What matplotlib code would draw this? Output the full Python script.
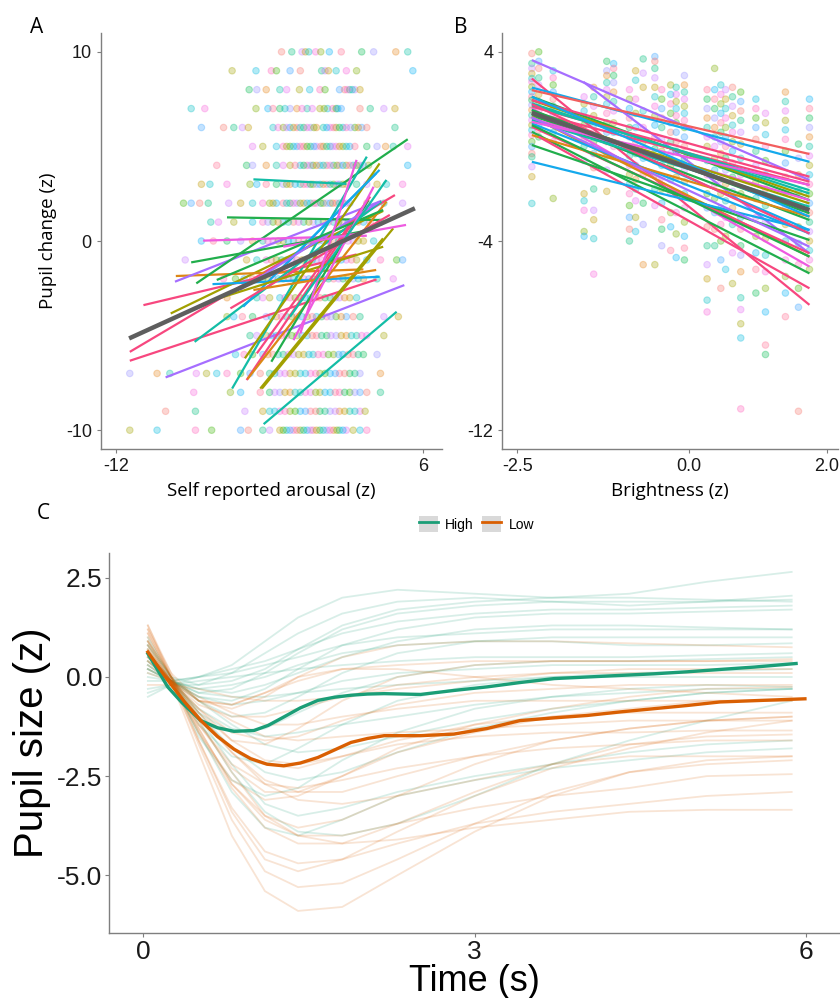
import numpy as np
import matplotlib.pyplot as plt
from matplotlib.lines import Line2D
from matplotlib.patches import Rectangle

# ---------------- data: panel A (self reported arousal vs pupil change) ----------------
a_rows = {
    10: [-2.3, -1.7, -1.1, -0.9, -0.7, -0.3, 0.0, 0.5, 1.2, 2.4, 3.1, 4.4, 5.1],
    9: [-5.2, -3.8, -2.9, -2.6, -1.8, -1.2, 0.05, 0.25, 0.45, 0.9, 1.5, 2.1, 5.4],
    8: [-4.2, -3.75, -3.2, -2.4, -2.0, -1.25, -0.65, -0.05, 0.25, 1.1, 1.4, 1.7, 2.0, 2.3, 1.85, 1.55],
    7: [-7.6, -6.8, -3.8, -3.1, -2.8, -2.4, -1.8, -1.4, -0.8, -0.5, -0.05, 0.4, 0.7, 0.9, 1.2, 2.3, 2.9, 3.7, 4.35,
        -2.1, -1.1, 0.2, 1.0],
    6: [-7.0, -5.7, -5.1, -4.6, -4.25, -2.8, -2.5, -2.2, -1.8, -1.4, -1.0, -0.6, -0.25, 0.15, 0.55, 0.9, 1.3, 1.5,
        2.0, 2.4, 2.7, 4.35, -2.0, -1.6, -1.2, -0.8, -0.4, 0.35, 0.75, 1.1, 1.75, 2.2],
    5: [-4.0, -3.4, -2.6, -2.2, -1.8, -1.4, -1.0, -0.6, -0.25, 0.15, 0.55, 0.9, 1.3, 1.7, 2.0, 2.7, 3.3, 3.8, 4.25,
        5.1, -2.0, -1.6, -1.2, -0.8, -0.4, 0.0, 0.35, 0.7, 1.1, 1.5],
    4: [-6.1, -4.35, -4.0, -3.2, -2.6, -2.2, -1.8, -1.2, -0.8, -0.45, -0.05, 0.35, 0.75, 1.1, 1.5, 1.9, 2.3, 2.8,
        5.1, -1.5, -1.0, -0.6, -0.25, 0.15, 0.55, 0.95, 1.3, 1.7, 2.1, 2.5],
    3: [-7.0, -6.5, -5.5, -4.15, -3.75, -3.2, -2.6, -2.2, -1.8, -1.2, -0.8, -0.45, -0.05, 0.35, 0.75, 1.1, 1.5, 2.1,
        2.7, 3.3, 3.85, 4.8, -2.0, -1.5, -1.0, -0.6, -0.25, 0.15, 0.55, 0.95, 1.3],
    2: [-8.05, -7.6, -7.1, -6.6, -5.4, -4.7, -4.0, -3.4, -3.0, -2.6, -2.2, -1.8, -1.4, -1.0, -0.6, -0.25, 0.15, 0.55,
        0.9, 1.3, 1.7, 2.7, 3.7, 4.8, -2.8, -2.0, -1.6, -1.2, -0.8, -0.4, 0.0, 0.35, 0.7, 1.1, 1.5],
    1: [-6.45, -6.0, -5.1, -4.0, -3.4, -2.8, -2.2, -1.6, -1.0, -0.45, 0.15, 0.75, 1.3, 1.9, 2.5, 2.9, 3.5,
        -3.1, -2.5, -1.9, -1.3, -0.7, -0.15, 0.45, 1.05, 1.6, 2.2],
    0: [-7.0, -6.3, -5.5, -4.7, -4.0, -3.4, -2.8, -2.2, -1.6, -1.0, -0.45, 0.15, 0.75, 1.3, 1.9, 2.5, 3.1,
        -3.1, -2.5, -1.9, -1.3, -0.7, -0.15, 0.45, 1.05, 1.6, 2.2],
    -1: [-7.95, -4.35, -3.75, -3.2, -2.6, -2.0, -1.4, -0.8, -0.25, 0.35, 0.9, 1.5, 2.1, 2.7, 3.5, 4.45, 4.8,
         -2.9, -2.3, -1.7, -1.1, -0.5, 0.05, 0.6, 1.2, 1.8],
    -2: [-5.7, -5.0, -4.5, -4.0, -3.4, -2.8, -2.2, -1.6, -1.0, -0.45, 0.15, 0.75, 1.3, 1.9, 2.5, 3.3, 4.25,
         -3.1, -2.5, -1.9, -1.3, -0.7, -0.15, 0.45, 1.05, 1.6, 2.2],
    -3: [-5.5, -3.75, -3.4, -3.0, -2.4, -1.8, -1.2, -0.6, -0.05, 0.55, 1.1, 1.7, 2.1, -2.1, -1.5, -0.9, -0.3, 0.25,
         0.85, 1.4],
    -4: [-5.5, -5.1, -4.6, -4.0, -3.2, -2.6, -2.0, -1.4, -0.8, -0.25, 0.35, 0.9, 1.5, 1.9, 2.3, 3.7, 4.55,
         -2.9, -2.3, -1.7, -1.1, -0.5, 0.05, 0.6, 1.2],
    -5: [-4.15, -3.75, -3.2, -2.6, -2.0, -1.4, -0.8, -0.25, 0.35, 0.9, 1.5, 2.1, 2.7, 3.7, -2.9, -2.3, -1.7, -1.1,
         -0.5, 0.05, 0.6, 1.2, 1.8, 2.4],
    -6: [-5.0, -4.5, -4.0, -3.4, -2.8, -2.2, -1.6, -1.0, -0.45, 0.15, 0.75, 1.3, 1.9, 2.5, 3.3, -3.1, -2.5, -1.9,
         -1.3, -0.7, -0.15, 0.45, 1.05, 1.6, 2.2],
    -7: [-11.2, -9.6, -8.85, -7.3, -6.7, -6.1, -5.5, -4.7, -4.15, -3.55, -3.0, -2.4, -1.8, -1.2, -0.6, -0.05, 0.55,
         1.1, 1.7, 2.3, 3.5, -2.7, -2.1, -1.5, -0.9, -0.3, 0.25, 0.85, 1.4, 2.0],
    -8: [-7.45, -5.3, -4.7, -3.55, -3.0, -2.4, -1.8, -1.2, -0.6, -0.05, 0.55, 1.1, 1.7, 2.3, 2.7, 3.5,
         -2.7, -2.1, -1.5, -0.9, -0.3, 0.25, 0.85, 1.4, 2.0],
    -9: [-9.1, -7.35, -4.45, -3.4, -3.0, -2.4, -1.8, -1.2, -0.6, -0.05, 0.55, 1.1, 1.7, 2.3, 2.6,
         -2.7, -2.1, -1.5, -0.9, -0.3, 0.25, 0.85, 1.4, 2.0],
    -10: [-11.2, -9.6, -7.35, -6.4, -4.7, -4.25, -3.4, -3.0, -2.4, -2.0, -1.6, -1.2, -0.8, -0.45, -0.05, 0.35, 0.75,
          1.1, 1.5, 1.9, 2.3, 2.7, -2.2, -1.8, -1.4, -1.0, -0.6, -0.25, 0.15, 0.55, 0.95, 1.3],
}

# per-subject fitted lines: x0, y0, x1, y1
a_x0 = [-11.2, -11.2, -10.4, -9.1, -8.8, -8.5, -8.55, -7.6, -7.3, -7.4, -6.35, -6.9, -5.5, -3.95, -5.2, -4.55, -4.35,
        -4.3, -3.45, -3.35, -4.45, -3.55, -5.3, -2.9, -3.75, -2.0, -4.75, -2.2, -3.95, -6.1, -6.3, -1.2, -1.6, -1.8]
a_y0 = [-5.86, -6.33, -3.39, -7.21, -3.83, -1.85, -2.15, -1.13, -2.24, -5.33, -2.28, 0.02, 1.25, 3.26, -7.8, -3.47, -7.35,
        -7.3, -7.8, -9.68, -6.2, -7.8, -3.56, -6.38, -5.94, -1.18, -2.59, -0.3, -2.59, -2.06, -3.12, -4.89, -5.24, -4.0]
a_x1 = [4.35, 3.27, 2.1, 4.9, 3.66, 2.5, 3.55, 2.4, 5.1, 3.55, 3.45, 2.7, 3.45, 1.5, 2.7, 3.45, 2.5,
        3.85, 4.25, 4.45, 3.45, 3.65, 4.05, 2.8, 2.9, 3.25, 3.45, 5.0, 3.25, 3.66, 3.66, 2.1, 3.1, 3.85]
a_y1 = [2.43, -2.03, -0.71, -2.33, 1.59, -1.5, 2.12, 0.5, 5.38, 2.08, -1.89, 0.28, 1.11, 3.02, 4.46, 3.76, 1.82,
        2.08, 0.67, -3.74, 4.1, 0.14, 1.38, 2.17, 2.35, 3.58, 2.08, 0.85, -1.53, 1.64, -0.3, 4.29, 2.87, 3.23]
a_cols = ['pink', 'pink', 'pink', 'purple', 'olive', 'orange', 'purple', 'green', 'green', 'teal', 'blue', 'magenta',
          'green', 'teal', 'teal', 'blue', 'pink', 'orange', 'olive', 'teal', 'olive', 'olive', 'pink', 'green',
          'pink', 'blue', 'purple', 'magenta', 'orange', 'green', 'olive', 'magenta', 'magenta', 'teal']
a_fit = [(-11.24, -5.15), (5.52, 1.73)]

# ---------------- data: panel B (brightness vs pupil change) ----------------
b_cols_x = [-2.29, -2.19, -1.98, -1.53, -1.39, -1.20, -1.10, -0.87, -0.78, -0.67, -0.50, -0.40, -0.27, -0.19,
            -0.07, 0.26, 0.37, 0.46, 0.53, 0.63, 0.75, 0.97, 1.11, 1.40, 1.59, 1.75]
b_cols_y = [
    [3.93, 3.51, 3.3, 3.08, 2.87, 2.73, 2.52, 2.31, 2.1, 1.96, 1.75, 1.54, 1.32, 1.11, 0.9, 0.69, 0.48, 0.2, -0.01, -0.3, -0.44, -0.86, -1.28, -2.41],
    [4.0, 3.6, 3.3, 2.9, 2.6, 2.2, 1.9, 1.5, 1.2, 0.9, 0.7, 0.4],
    [3.2, 2.9, 2.6, 2.3, 2.0, 1.7, 1.4, 1.0, 0.6, 0.2, -2.2],
    [2.1, 1.8, 1.5, 1.2, 0.9, 0.6, 0.3, 0.0, -0.6, -2.0, -2.3, -2.7, -3.6, -3.8],
    [2.5, 2.1, 1.7, 1.3, 0.9, 0.6, 0.2, -0.3, -0.9, -1.8, -2.7, -3.1, -3.9, -5.4],
    [3.6, 3.2, 3.0, 2.7, 2.4, 2.1, 1.8, 1.4, 1.0, 0.6, 0.2, -0.4, -1.0, -1.9],
    [3.5, 3.3, 3.0, 2.7, 2.3, 1.9, 1.5, 1.0, 0.6, 0.0],
    [2.4, 2.0, 1.6, 1.2, 0.8, 0.4, 0.0, -0.4, -0.8, -1.2, -1.6, -2.0, -2.5, -3.0, -3.5, -4.0],
    [3.2, 2.8, 2.0, 1.4, 0.8, 0.2, -0.3, -0.8, -1.4, -1.8, -2.3, -3.0, -3.6],
    [3.7, 3.1, 2.5, 1.5, 0.8, 0.2, -0.5, -1.2, -2.4, -3.3, -5.0],
    [3.8, 3.6, 3.3, 2.9, 2.5, 2.1, 1.7, 1.3, 0.9, 0.4, -0.1, -0.6, -1.2, -1.8, -2.5, -5.0],
    [2.4, 2.0, 1.6, 1.2, 0.8, 0.3, -0.2, -0.8, -1.3, -1.8, -2.4, -3.1, -3.5, -4.2],
    [2.6, 2.2, 1.8, 1.4, 1.0, 0.6, 0.2, -0.3, -0.8, -1.4, -2.0, -2.8, -3.4, -4.4],
    [2.5, 2.2, 1.9, 1.6, 1.3, 1.0, 0.6, 0.2, -0.2, -0.7, -1.3, -2.0, -2.8, -3.7, -4.7],
    [3.0, 2.6, 2.3, 2.0, 1.7, 1.4, 1.1, 0.8, 0.4, 0.0, -0.5, -1.0, -1.5, -2.0, -2.6, -3.2, -3.8, -4.3, -4.8],
    [2.4, 2.0, 1.6, 1.2, 0.8, 0.4, 0.0, -0.6, -1.2, -2.0, -2.6, -3.4, -4.2, -5.0, -5.6, -6.5, -7.0],
    [3.3, 2.4, 2.0, 1.6, 1.2, 0.8, 0.4, 0.0, -0.5, -1.0, -1.6, -2.2, -2.8, -3.5, -4.2],
    [2.6, 2.2, 1.8, 1.4, 1.0, 0.6, 0.2, -0.3, -0.8, -1.4, -2.0, -2.6, -3.3, -4.0, -4.8, -6.0],
    [2.4, 2.0, 1.6, 1.2, 0.8, 0.4, 0.0, -0.5, -1.0, -1.6, -2.3, -3.0, -3.8, -5.2],
    [2.5, 2.1, 1.7, 1.3, 0.9, 0.6, 0.2, -0.2, -0.7, -1.3, -1.9, -2.6, -3.3, -4.5, -5.8],
    [2.3, 1.9, 1.5, 1.1, 0.6, 0.1, -0.5, -1.2, -2.0, -3.0, -3.5, -4.2, -4.6, -5.3, -6.4, -6.9, -7.5, -8.1, -11.1],
    [2.0, 1.6, 1.2, 0.8, 0.3, -0.2, -0.8, -1.5, -2.2, -3.0, -3.8, -4.5, -5.2, -6.2],
    [1.4, 1.0, 0.5, 0.0, -0.6, -1.2, -1.8, -2.5, -3.2, -3.9, -4.6, -5.3, -6.0, -7.0, -8.4, -8.8],
    [2.3, 1.9, 1.5, 1.1, 0.7, 0.3, -0.2, -0.7, -1.3, -1.9, -2.6, -3.3, -4.0, -4.8, -5.5, -6.2, -7.2],
    [0.1, -0.5, -1.2, -1.9, -2.7, -3.4, -4.1, -5.0, -6.0, -6.8, -11.2],
    [2.0, 1.6, 1.2, 0.8, 0.4, 0.0, -0.4, -0.8, -1.2, -1.6, -2.0, -2.4, -2.8, -3.2, -3.6, -4.0, -4.4, -4.8, -5.2],
]
b_x0 = [-2.29, -2.29, -2.29, -1.54, -2.29, -2.29, -2.29, -2.29, -2.29, -2.29, -2.29, -2.29, -2.29, -2.29, -2.29, -2.29,
        -2.29, -2.29, -2.29, -2.29, -2.19, -2.29, -2.29, -2.29, -2.29, -2.29, -2.29, -2.29, -2.29, -2.29, -2.29, -2.29]
b_y0 = [3.65, 2.87, 2.49, 2.73, 2.38, 2.1, 1.96, 1.82, 1.68, 1.61, 1.54, 1.46, 1.32, 1.25, 1.18, 1.11,
        0.97, 0.83, 0.62, 0.48, 0.41, 0.06, -0.65, 1.96, 1.75, 1.54, 1.39, 1.23, 1.04, 2.1, 1.79, 0.9]
b_x1 = [1.75] * 32
b_y1 = [-1.42, -6.7, -0.65, -4.52, -0.32, -2.27, -2.13, -1.99, -1.49, -5.08, -3.54, -1.63, -3.11, -4.66, -2.27, -2.55,
        -3.68, -4.52, -5.37, -2.97, -6.0, -3.96, -3.54, -1.28, -1.85, -2.83, -2.41, -4.24, -1.63, -2.97, -3.68, -4.66]
b_cols = ['purple', 'pink', 'blue', 'purple', 'red', 'green', 'olive', 'teal', 'pink', 'magenta', 'blue', 'pink',
          'green', 'orange', 'magenta', 'teal', 'blue', 'pink', 'green', 'orange', 'pink', 'green', 'blue', 'pink',
          'teal', 'green', 'olive', 'purple', 'magenta', 'blue', 'pink', 'green']
b_fit = [(-2.29, 1.42), (1.75, -2.69)]

# ---------------- data: panel C (pupil time course) ----------------
t_knots = [0.04, 0.25, 0.5, 0.8, 1.1, 1.4, 1.8, 2.3, 3.0, 3.7, 4.4, 5.1, 5.87]
high_curves = [
    [0.2, -0.1, 0.0, 0.3, 0.9, 1.5, 2.0, 2.2, 2.1, 2.0, 2.1, 2.4, 2.65],
    [0.5, 0.0, -0.2, 0.1, 0.6, 1.1, 1.6, 1.9, 2.0, 1.9, 1.8, 1.9, 2.05],
    [0.3, -0.1, -0.4, -0.3, 0.1, 0.6, 1.2, 1.6, 1.8, 1.9, 1.9, 1.9, 1.95],
    [0.0, -0.1, 0.0, 0.2, 0.4, 0.7, 1.1, 1.4, 1.6, 1.7, 1.7, 1.75, 1.8],
    [0.6, -0.1, -0.5, -0.6, -0.3, 0.2, 0.8, 1.2, 1.5, 1.6, 1.6, 1.65, 1.7],
    [-0.3, -0.2, 0.0, 0.1, 0.3, 0.5, 0.8, 1.0, 1.1, 1.2, 1.2, 1.2, 1.2],
    [0.8, 0.0, -0.6, -1.0, -0.9, -0.5, 0.1, 0.6, 0.9, 1.0, 1.0, 1.0, 1.0],
    [0.4, -0.1, -0.3, -0.2, 0.0, 0.3, 0.6, 0.8, 0.9, 0.9, 0.8, 0.8, 0.85],
    [-0.5, -0.2, -0.1, 0.0, 0.1, 0.2, 0.3, 0.4, 0.5, 0.5, 0.5, 0.55, 0.6],
    [0.9, 0.0, -0.9, -1.4, -1.3, -0.9, -0.4, 0.0, 0.3, 0.4, 0.4, 0.45, 0.5],
    [0.2, -0.1, -0.5, -0.7, -0.6, -0.4, -0.1, 0.1, 0.2, 0.3, 0.3, 0.3, 0.35],
    [0.7, -0.1, -1.2, -2.0, -2.2, -1.8, -1.2, -0.6, -0.2, 0.0, 0.1, 0.15, 0.2],
    [0.1, -0.1, -0.4, -0.5, -0.5, -0.4, -0.3, -0.2, -0.1, 0.0, 0.0, 0.0, 0.0],
    [1.0, 0.0, -1.5, -2.6, -3.0, -2.8, -2.1, -1.4, -0.8, -0.5, -0.3, -0.2, -0.25],
    [0.5, -0.1, -0.8, -1.3, -1.5, -1.4, -1.2, -1.0, -0.7, -0.5, -0.4, -0.3, -0.3],
    [0.3, -0.1, -1.0, -2.2, -3.2, -3.5, -3.3, -2.9, -2.5, -2.2, -1.9, -1.7, -1.6],
    [0.6, -0.1, -1.4, -2.9, -3.8, -4.0, -3.6, -3.0, -2.6, -2.3, -2.1, -1.9, -1.8],
    [-0.1, -0.1, -0.6, -1.2, -1.7, -1.9, -1.8, -1.5, -1.1, -0.8, -0.6, -0.4, -0.3],
    [0.4, -0.1, -0.3, -0.4, -0.2, 0.1, 0.5, 0.9, 1.2, 1.3, 1.3, 1.25, 1.2],
    [0.2, -0.1, -0.9, -1.8, -2.4, -2.6, -2.4, -1.9, -1.3, -0.9, -0.6, -0.4, -0.3],
    [-0.4, -0.2, -0.2, -0.1, 0.2, 0.7, 1.3, 1.7, 1.9, 2.0, 2.0, 1.95, 1.9],
    [0.8, 0.0, -1.1, -2.4, -3.4, -3.9, -4.0, -3.7, -3.0, -2.2, -1.6, -1.1, -0.6],
]
low_curves = [
    [1.3, 0.1, -0.6, -0.8, -0.5, 0.0, 0.5, 0.8, 0.9, 0.9, 0.85, 0.8, 0.75],
    [0.9, 0.0, -0.9, -1.6, -1.7, -1.3, -0.6, 0.0, 0.3, 0.4, 0.4, 0.4, 0.4],
    [0.6, -0.1, -0.7, -1.0, -1.0, -0.8, -0.5, -0.2, 0.0, 0.1, 0.1, 0.1, 0.1],
    [1.1, 0.0, -1.4, -2.6, -3.1, -3.0, -2.5, -1.8, -1.2, -0.8, -0.5, -0.3, -0.25],
    [0.7, -0.1, -1.2, -2.3, -2.9, -2.9, -2.5, -1.9, -1.4, -1.0, -0.8, -0.6, -0.6],
    [0.4, -0.1, -0.8, -1.6, -2.1, -2.2, -2.0, -1.6, -1.2, -1.0, -0.9, -0.9, -0.9],
    [1.2, 0.1, -1.6, -3.4, -4.6, -4.9, -4.6, -3.9, -3.0, -2.3, -1.8, -1.4, -1.1],
    [0.9, -0.1, -1.9, -4.0, -5.4, -5.9, -5.8, -5.0, -3.9, -3.0, -2.4, -2.1, -2.0],
    [0.5, -0.1, -1.3, -2.7, -3.6, -4.0, -4.0, -3.7, -3.3, -3.0, -2.8, -2.5, -2.45],
    [0.8, -0.1, -1.6, -3.3, -4.4, -4.7, -4.6, -4.2, -3.7, -3.4, -3.2, -3.0, -2.9],
    [0.3, -0.1, -1.1, -2.4, -3.5, -4.0, -4.2, -4.1, -3.8, -3.6, -3.4, -3.35, -3.35],
    [1.0, 0.0, -1.0, -1.8, -2.2, -2.3, -2.0, -1.7, -1.5, -1.4, -1.4, -1.35, -1.35],
    [0.2, -0.1, -0.6, -1.1, -1.5, -1.6, -1.5, -1.4, -1.3, -1.2, -1.1, -1.1, -1.1],
    [0.6, -0.1, -1.0, -1.9, -2.6, -2.9, -2.9, -2.5, -2.0, -1.6, -1.3, -1.1, -1.0],
    [-0.2, -0.2, -0.3, -0.5, -0.6, -0.6, -0.5, -0.3, -0.1, 0.1, 0.2, 0.2, 0.2],
    [1.1, 0.0, -0.6, -0.7, -0.4, -0.1, 0.2, 0.3, 0.4, 0.4, 0.4, 0.4, 0.45],
    [0.8, -0.1, -1.4, -2.8, -3.8, -4.2, -4.2, -3.7, -2.9, -2.2, -1.7, -1.5, -1.45],
    [0.4, -0.1, -0.9, -1.9, -2.7, -3.1, -3.2, -3.0, -2.6, -2.2, -2.0, -2.0, -2.0],
    [1.2, 0.0, -1.7, -3.6, -4.9, -5.3, -5.2, -4.6, -3.7, -2.9, -2.4, -2.2, -2.1],
    [0.7, -0.1, -0.6, -0.7, -0.4, 0.0, 0.2, 0.2, 0.0, -0.2, -0.3, -0.4, -0.5],
    [0.1, -0.1, -0.5, -0.9, -1.2, -1.2, -1.0, -0.8, -0.6, -0.6, -0.6, -0.6, -0.6],
    [0.9, 0.0, -1.3, -2.7, -3.5, -3.8, -3.6, -3.0, -2.2, -1.6, -1.3, -1.1, -1.0],
    [0.5, -0.1, -0.8, -1.4, -1.6, -1.5, -1.1, -0.7, -0.4, -0.3, -0.2, -0.2, -0.2],
    [1.3, 0.0, -1.2, -2.2, -2.7, -2.8, -2.6, -2.3, -2.0, -1.8, -1.7, -1.6, -1.6],
]
t_high = [0.04, 0.22, 0.35, 0.52, 0.67, 0.82, 1.0, 1.13, 1.27, 1.42, 1.58, 1.73, 1.88, 2.03, 2.18, 2.51,
          2.81, 3.11, 3.41, 3.72, 4.02, 4.32, 4.62, 4.92, 5.22, 5.53, 5.91]
mean_high = [0.59, -0.25, -0.65, -1.10, -1.28, -1.37, -1.35, -1.22, -1.01, -0.78, -0.59, -0.51, -0.46, -0.43,
             -0.42, -0.44, -0.34, -0.25, -0.14, -0.04, 0.0, 0.04, 0.08, 0.13, 0.19, 0.25, 0.34]
t_low = [0.04, 0.22, 0.37, 0.52, 0.67, 0.82, 0.97, 1.12, 1.27, 1.42, 1.58, 1.73, 1.88, 2.03, 2.18, 2.51,
         2.81, 3.11, 3.41, 3.72, 4.02, 4.32, 4.62, 4.92, 5.22, 5.6, 5.99]
mean_low = [0.63, -0.08, -0.62, -1.10, -1.50, -1.82, -2.06, -2.20, -2.24, -2.17, -2.03, -1.84, -1.65, -1.55,
            -1.48, -1.48, -1.44, -1.30, -1.10, -1.03, -0.97, -0.88, -0.80, -0.72, -0.63, -0.59, -0.55]

# ---------------- styles ----------------
line_colors = {'pink': '#F7477F', 'red': '#F25E5E', 'magenta': '#EE5AE0', 'purple': '#A66EFF',
               'blue': '#14A9EC', 'teal': '#13BDA6', 'green': '#21AE4C', 'olive': '#A2A000',
               'orange': '#DC8716'}
pt_palette = ['#F8766D', '#E7861B', '#C09B00', '#A3A500', '#7CAE00', '#39B600', '#00BB4E', '#00BF7D',
              '#00C1A3', '#00BFC4', '#00BAE0', '#00B0F6', '#35A2FF', '#9590FF', '#C77CFF', '#E76BF3',
              '#FA62DB', '#FF62BC', '#FF6C91']
HI, LO = '#1B9E77', '#D95F02'
SPINE = '#7f7f7f'

plt.rcParams['font.family'] = ['Liberation Sans', 'DejaVu Sans']
plt.rcParams['axes.unicode_minus'] = False
fig = plt.figure(figsize=(8.4, 9.98), dpi=100)


def style_axes(ax, fs, pad=3.5):
    for s in ['top', 'right']:
        ax.spines[s].set_visible(False)
    for s in ['left', 'bottom']:
        ax.spines[s].set_color(SPINE)
        ax.spines[s].set_linewidth(1.0)
    ax.tick_params(colors=SPINE, labelcolor='#1a1a1a', labelsize=fs, length=3, width=0.8, pad=pad)


# panel A
axA = fig.add_axes([0.120, 0.550, 0.406, 0.417])
k = 0
for yv, xs in a_rows.items():
    cs = [pt_palette[(k + j * 7) % len(pt_palette)] for j in range(len(xs))]
    axA.scatter(xs, [yv] * len(xs), s=22, c=cs, alpha=0.3, linewidths=0.8, edgecolors=cs)
    k += 3
for x0, y0, x1, y1, c in zip(a_x0, a_y0, a_x1, a_y1, a_cols):
    axA.plot([x0, x1], [y0, y1], color=line_colors[c], lw=1.6, solid_capstyle='butt')
axA.plot([p[0] for p in a_fit], [p[1] for p in a_fit], color='#5e5e5e', lw=3.2, solid_capstyle='butt')
axA.set_xlim(-12.9, 7.1)
axA.set_ylim(-11, 11)
axA.set_xticks([-12, 6])
axA.set_yticks([-10, 0, 10])
style_axes(axA, 13)
axA.set_xlabel('Self reported arousal (z)', fontsize=13.5, family='Open Sans', labelpad=5)
axA.set_ylabel('Pupil change (z)', fontsize=13.5, family='Open Sans', labelpad=6)

# panel B
axB = fig.add_axes([0.598, 0.550, 0.400, 0.417])
for i, (xv, ys) in enumerate(zip(b_cols_x, b_cols_y)):
    cs = [pt_palette[(i * 5 + j * 7) % len(pt_palette)] for j in range(len(ys))]
    axB.scatter([xv] * len(ys), ys, s=22, c=cs, alpha=0.3, linewidths=0.8, edgecolors=cs)
for x0, y0, x1, y1, c in zip(b_x0, b_y0, b_x1, b_y1, b_cols):
    axB.plot([x0, x1], [y0, y1], color=line_colors[c], lw=1.6, solid_capstyle='butt')
axB.plot([p[0] for p in b_fit], [p[1] for p in b_fit], color='#5e5e5e', lw=3.2, solid_capstyle='butt')
axB.set_xlim(-2.72, 2.17)
axB.set_ylim(-12.8, 4.8)
axB.set_xticks([-2.5, 0.0, 2.0])
axB.set_xticklabels(['-2.5', '0.0', '2.0'])
axB.set_yticks([-12, -4, 4])
style_axes(axB, 13)
axB.set_xlabel('Brightness (z)', fontsize=13.5, family='Open Sans', labelpad=5)

# panel C
axC = fig.add_axes([0.130, 0.065, 0.869, 0.381])
for ys in high_curves:
    axC.plot(t_knots, ys, color=HI, alpha=0.17, lw=1.3)
for ys in low_curves:
    axC.plot(t_knots, ys, color=LO, alpha=0.17, lw=1.3)
axC.plot(t_high, mean_high, color=HI, lw=2.4)
axC.plot(t_low, mean_low, color=LO, lw=2.4)
axC.set_xlim(-0.31, 6.3)
axC.set_ylim(-6.46, 3.13)
axC.set_xticks([0, 3, 6])
axC.set_yticks([-5.0, -2.5, 0.0, 2.5])
axC.set_yticklabels(['-5.0', '-2.5', '0.0', '2.5'])
style_axes(axC, 19, pad=2)
axC.set_xlabel('Time (s)', fontsize=26, labelpad=0)
axC.set_ylabel('Pupil size (z)', fontsize=29, labelpad=4)

handles = [(Rectangle((0, 0), 1, 1, facecolor='#d9d9d9', edgecolor='none'), Line2D([], [], color=HI, lw=2)),
           (Rectangle((0, 0), 1, 1, facecolor='#d9d9d9', edgecolor='none'), Line2D([], [], color=LO, lw=2))]
fig.legend(handles, ['High', 'Low'], loc='center', bbox_to_anchor=(0.567, 0.475), ncol=2, frameon=False,
           fontsize=10, handlelength=1.4, handleheight=1.4, handletextpad=0.5, columnspacing=0.6)

fig.text(0.036, 0.972, 'A', fontsize=15, family='Open Sans', va='center')
fig.text(0.540, 0.972, 'B', fontsize=15, family='Open Sans', va='center')
fig.text(0.044, 0.485, 'C', fontsize=15, family='Open Sans', va='center')

fig.savefig('out.png', dpi=100, facecolor='white')
